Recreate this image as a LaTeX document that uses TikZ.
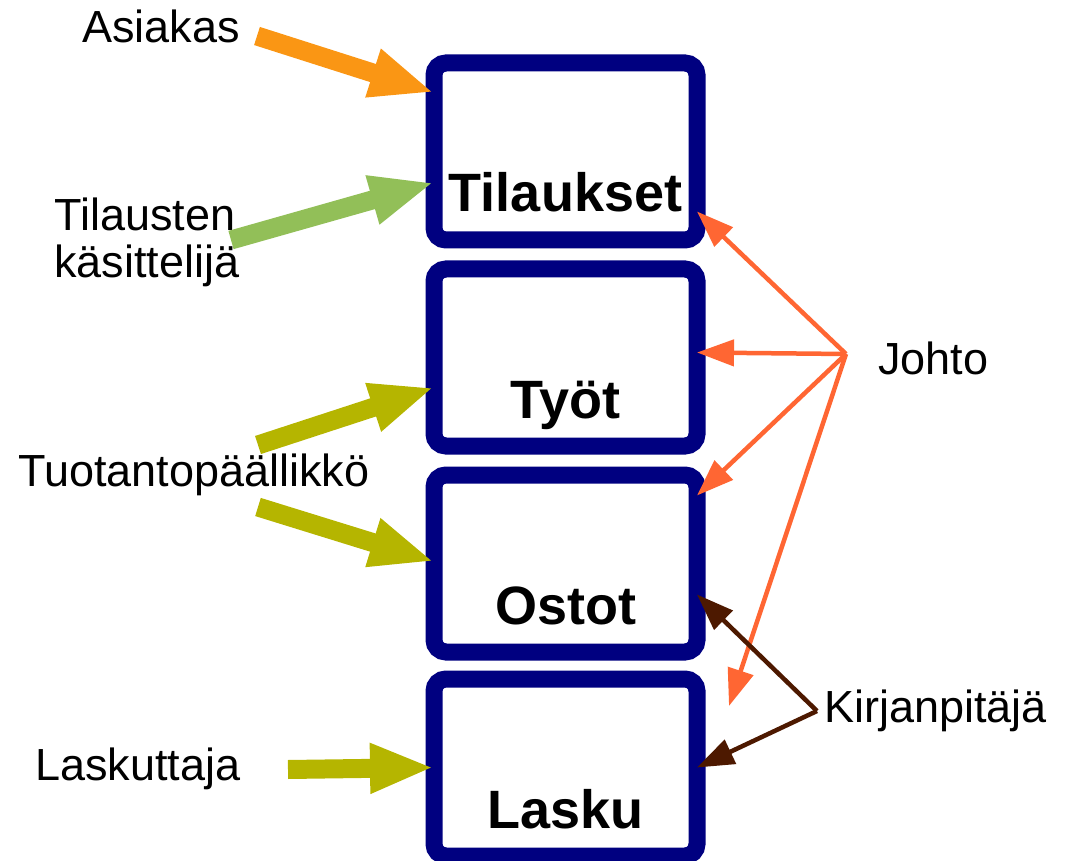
\documentclass[tikz,border=0pt]{standalone}
\usepackage{fontspec}
\setmainfont{Liberation Sans}
\usetikzlibrary{arrows.meta,calc}

\definecolor{laatikko}{RGB}{0,0,128}
\definecolor{asiakasvari}{RGB}{250,150,20}
\definecolor{kasittelijavari}{RGB}{146,191,88}
\definecolor{oliivi}{RGB}{181,181,0}
\definecolor{johtovari}{RGB}{255,102,51}
\definecolor{kirjavari}{RGB}{77,25,0}

\begin{document}
\begin{tikzpicture}[x=1pt,y=-1pt,
        tehtava/.style={draw=laatikko,fill=white,line width=17pt,rounded corners=12pt,
            minimum width=263pt,minimum height=177pt,inner sep=0pt,outer sep=0pt},
        otsikko/.style={anchor=base,inner sep=0pt,font=\fontsize{54}{60}\selectfont\bfseries},
        rooli/.style={anchor=base west,inner sep=0pt,align=left,font=\fontsize{45}{47}\selectfont},
        paksu/.style={line width=19pt,-{Triangle[length=64pt,width=46pt]}},
        ohut/.style={line width=4.5pt,-{Triangle[length=37pt,width=26pt]}}
    ]
    \useasboundingbox (0,0) rectangle (1066,861);

    % tehtavat
    \node[tehtava] (tilaukset) at (565.5,151.5) {};
    \node[tehtava] (tyot) at (565.5,357.5) {};
    \node[tehtava] (ostot) at (565.5,563.5) {};
    \node[tehtava] (lasku) at (565.5,767.5) {};
    \node[otsikko] (tilauksetNimi) at ([yshift=28pt]tilaukset.south) {Tilaukset};
    \node[otsikko] (tyotNimi) at ([yshift=28pt]tyot.south) {Työt};
    \node[otsikko] (ostotNimi) at ([yshift=28pt]ostot.south) {Ostot};
    \node[otsikko] (laskuNimi) at ([yshift=28pt]lasku.south) {Lasku};

    % roolit
    \node[rooli] (asiakas) at (82,43) {Asiakas};
    \node[rooli] (kasittelija) at (54,277) {Tilausten\\käsittelijä};
    \node[rooli] (tuotanto) at (18,486) {Tuotantopäällikkö};
    \node[rooli] (laskuttaja) at (35,780) {Laskuttaja};
    \node[rooli] (johto) at (878,374) {Johto};
    \node[rooli] (kirjanpitaja) at (824,722) {Kirjanpitäjä};

    \coordinate (asiakasHanta) at (257,36);
    \coordinate (kasittelijaHanta) at (231,240);
    \coordinate (tuotantoYla) at (258,445);
    \coordinate (tuotantoAla) at (258,507);
    \coordinate (laskuttajaHanta) at (288,769.5);
    \coordinate (johtoKeskus) at (846,354);
    \coordinate (johtoVapaa) at (729,706);
    \coordinate (kirjaKeskus) at (817,711);

    \draw[paksu,asiakasvari] (asiakasHanta) -- ([yshift=59pt]tilaukset.west);
    \draw[paksu,kasittelijavari] (kasittelijaHanta) -- ([yshift=-31pt]tilaukset.west);
    \draw[paksu,oliivi] (tuotantoYla) -- ([yshift=-30pt]tyot.west);
    \draw[paksu,oliivi] (tuotantoAla) -- ([yshift=2pt]ostot.west);
    \draw[paksu,oliivi] (laskuttajaHanta) -- (lasku.west);

    \draw[ohut,johtovari] (johtoKeskus) -- ([yshift=-60pt]tilaukset.east);
    \draw[ohut,johtovari] (johtoKeskus) -- ([yshift=5pt]tyot.east);
    \draw[ohut,johtovari] (johtoKeskus) -- ([yshift=68pt]ostot.east);
    \draw[ohut,johtovari] (johtoKeskus) -- (johtoVapaa);

    \draw[ohut,kirjavari] (kirjaKeskus) -- ([yshift=-31pt]ostot.east);
    \draw[ohut,kirjavari] (kirjaKeskus) -- (lasku.east);
\end{tikzpicture}
\end{document}
